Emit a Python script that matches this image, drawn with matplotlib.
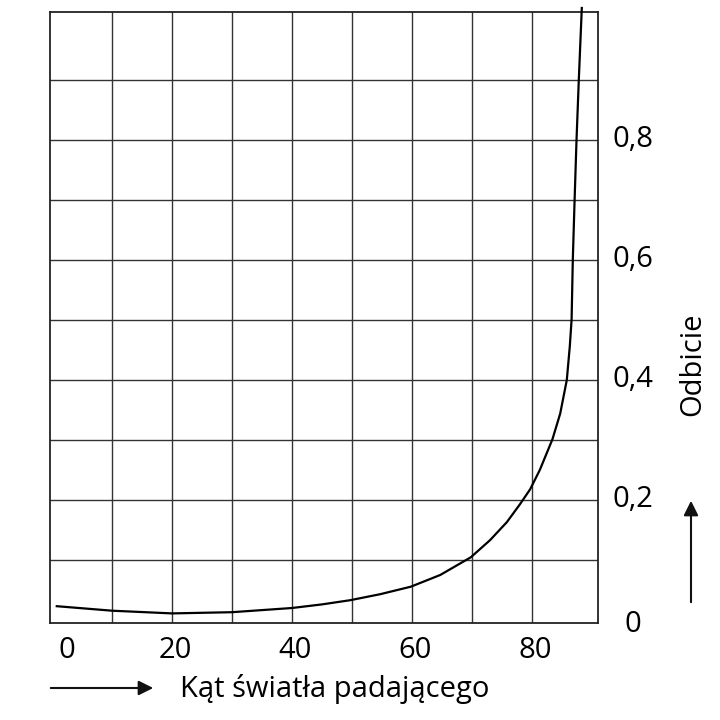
import matplotlib
matplotlib.use("Agg")
import matplotlib.pyplot as plt

plt.rcParams['font.family'] = ['Open Sans', 'DejaVu Sans']

# reflectance vs angle of incidence
angle = [0.8, 10, 20, 30, 40, 45, 49.7, 54.7, 59.8, 64.7, 69.8, 73, 75.8,
         78, 79.7, 81.3, 83.4, 84.7, 85.8, 86.3, 86.6, 86.8, 87.1,
         87.42, 87.8, 88.3]
reflect = [0.023, 0.0155, 0.011, 0.013, 0.02, 0.026, 0.033, 0.043, 0.0555,
           0.075, 0.1045, 0.133, 0.163, 0.193, 0.218, 0.25, 0.301, 0.344,
           0.4, 0.456, 0.501, 0.6, 0.7, 0.8, 0.9, 1.02]

x_ticks = [0, 20, 40, 60, 80]
x_tick_labels = ['0', '20', '40', '60', '80']
y_ticks = [0, 0.2, 0.4, 0.6, 0.8]
y_tick_labels = ['0', '0,2', '0,4', '0,6', '0,8']

fig = plt.figure(figsize=(7.2, 7.2), dpi=100)
ax = fig.add_axes([50 / 720, 97 / 720, 548 / 720, 611 / 720])

ax.set_xlim(-0.33, 91.0)
ax.set_ylim(-0.005, 1.0133)

ax.set_xticks(range(10, 90, 10))
ax.set_yticks([i / 10 for i in range(1, 10)])
ax.tick_params(length=0, labelbottom=False, labelleft=False)
ax.grid(True, color='#333333', linewidth=1.0)
for s in ax.spines.values():
  s.set_color('#222222')
  s.set_linewidth(1.3)

ax.plot(angle, reflect, color='black', linewidth=1.6, clip_on=False, zorder=3)

fs = 21
# x tick labels (the "0" sits a bit inside the box in the original)
for v, lab in zip(x_ticks, x_tick_labels):
  xv = 2.5 if v == 0 else v + 0.5
  ax.text(xv, -0.045, lab, transform=ax.get_xaxis_transform(),
          ha='center', va='center', fontsize=fs)
# y tick labels on the right
for v, lab in zip(y_ticks, y_tick_labels):
  yv = v - 0.008 if v == 0 else v
  ax.text(1.064, yv, lab, transform=ax.get_yaxis_transform(),
          ha='center', va='center', fontsize=fs)

# axis titles with arrows
fig.text(180 / 720, 23 / 720, 'Kąt światła padającego', fontsize=fs,
         ha='left', va='baseline')
fig.text(693 / 720, 356 / 720, 'Odbicie', fontsize=fs, rotation=90,
         ha='center', va='center')

fig.patches.append(matplotlib.patches.FancyArrowPatch(
  (48, 32), (156, 32), transform=None, arrowstyle='-|>',
  mutation_scale=22, color='#111111', linewidth=1.5))
fig.patches.append(matplotlib.patches.FancyArrowPatch(
  (691, 115), (691, 222), transform=None, arrowstyle='-|>',
  mutation_scale=22, color='#111111', linewidth=1.5))

fig.savefig('out.png', dpi=100)
